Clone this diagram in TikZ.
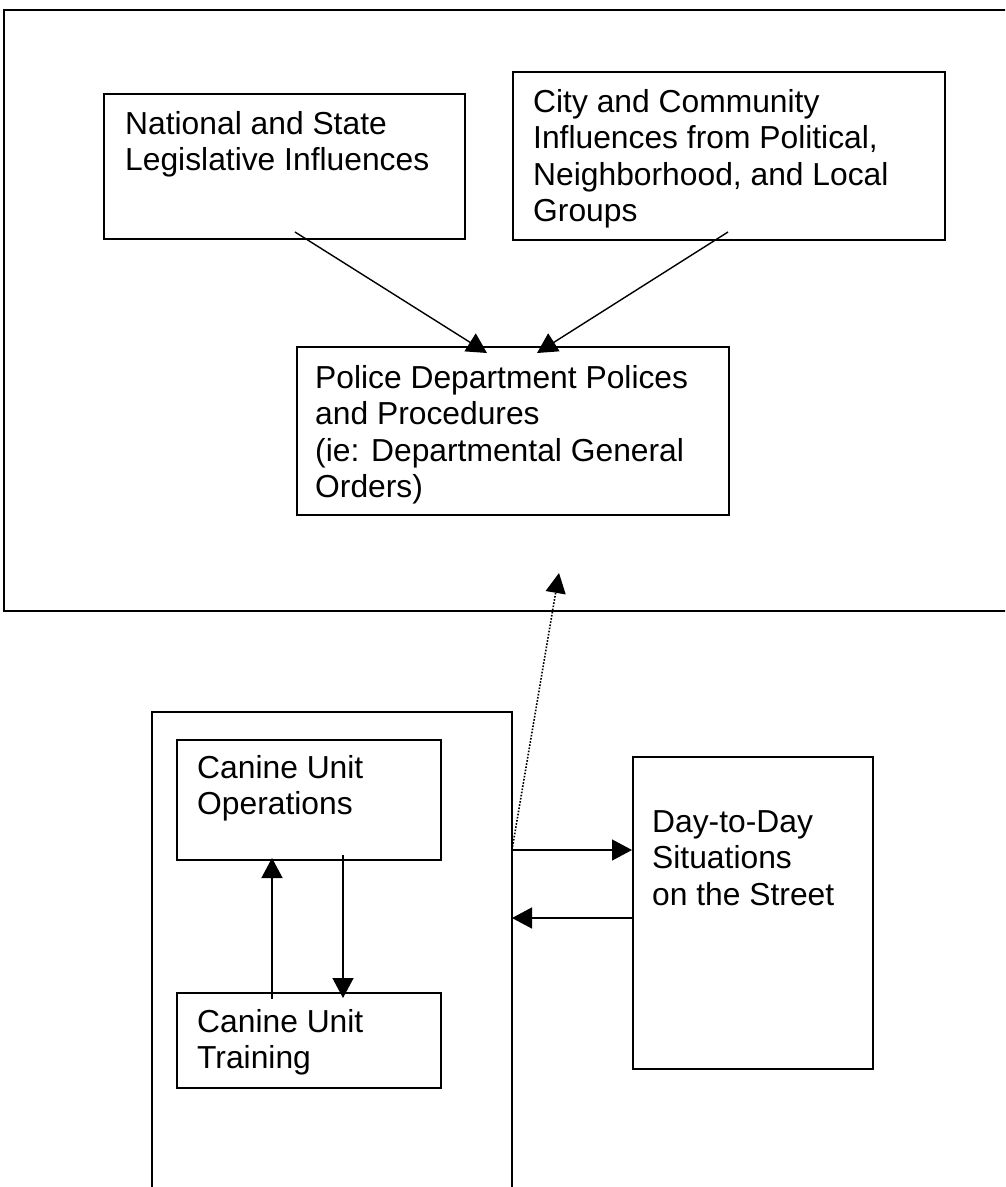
\documentclass[tikz,border=0pt]{standalone}
\usepackage{fontspec}
\setmainfont{Liberation Sans}
\usetikzlibrary{arrows.meta,calc}
\tikzset{
  box/.style={draw, line width=2pt, rectangle, inner sep=0pt, anchor=north west},
  txt/.style={anchor=base west, inner sep=0pt, font=\fontsize{31.8}{36.5}\selectfont},
  frame/.style={line width=2pt},
  conn/.style={line width=1.4pt, -{Triangle[length=20pt,width=21pt]}},
  dotconn/.style={line width=1.6pt, dash pattern=on 1.6pt off 1.6pt, -{Triangle[length=20pt,width=20pt]}}
}
\newcommand{\ml}[1]{\begin{tabular}[t]{@{}l@{}}#1\end{tabular}}
\begin{document}
\begin{tikzpicture}[x=1pt,y=-1pt]
\useasboundingbox (0,0) rectangle (1005,1187);
\clip (0,0) rectangle (1005,1187);
% outer frame (open on the right)
\draw[frame] (1010,10) -- (4,10) -- (4,611) -- (1010,611);
% lower left frame (open at the bottom)
\draw[frame] (152,1192) -- (152,712) -- (512,712) -- (512,1192);
% boxes
\node[box, minimum width=361pt, minimum height=145pt] (nat) at (103,93) {};
\node[box, minimum width=432pt, minimum height=168pt] (city) at (512,71) {};
\node[box, minimum width=432pt, minimum height=168pt] (pol) at (296,346) {};
\node[box, minimum width=264pt, minimum height=120pt] (ops) at (176,739) {};
\node[box, minimum width=264pt, minimum height=95pt] (trn) at (176,992) {};
\node[box, minimum width=240pt, minimum height=312pt] (day) at (632,756) {};
% texts
\node[txt] (natT) at (125,134) {\ml{National and State\\Legislative Influences}};
\node[txt] (cityT) at (533,112) {\ml{City and Community\\Influences from Political,\\Neighborhood, and Local\\Groups}};
\node[txt] (polT) at (315,388) {\ml{Police Department Polices\\and Procedures\\(ie: Departmental General\\Orders)}};
\node[txt] (opsT) at (197,778) {\ml{Canine Unit\\Operations}};
\node[txt] (trnT) at (197,1032) {\ml{Canine Unit\\Training}};
\node[txt] (dayT) at (652,832) {\ml{Day-to-Day\\Situations\\on the Street}};
% connector end points
\coordinate (natS) at (295,232);
\coordinate (cityS) at (728,232);
\coordinate (polA) at (487,353);
\coordinate (polB) at (537,353);
\coordinate (frR1) at (512,850);
\coordinate (frR2) at (512,918);
\coordinate (dotEnd) at (559,573);
\coordinate (trnUp) at (272,999);
\coordinate (opsUp) at (272,858);
\coordinate (opsDn) at (343,855);
\coordinate (trnDn) at (343,998);
% connectors
\draw[conn] (natS) -- (polA);
\draw[conn] (cityS) -- (polB);
\draw[dotconn] (frR1) -- (dotEnd);
\draw[conn] (frR1) -- (frR1 -| day.west);
\draw[conn] (frR2 -| day.west) -- (frR2);
\draw[conn] (trnUp) -- (opsUp);
\draw[conn] (opsDn) -- (trnDn);
\end{tikzpicture}
\end{document}
